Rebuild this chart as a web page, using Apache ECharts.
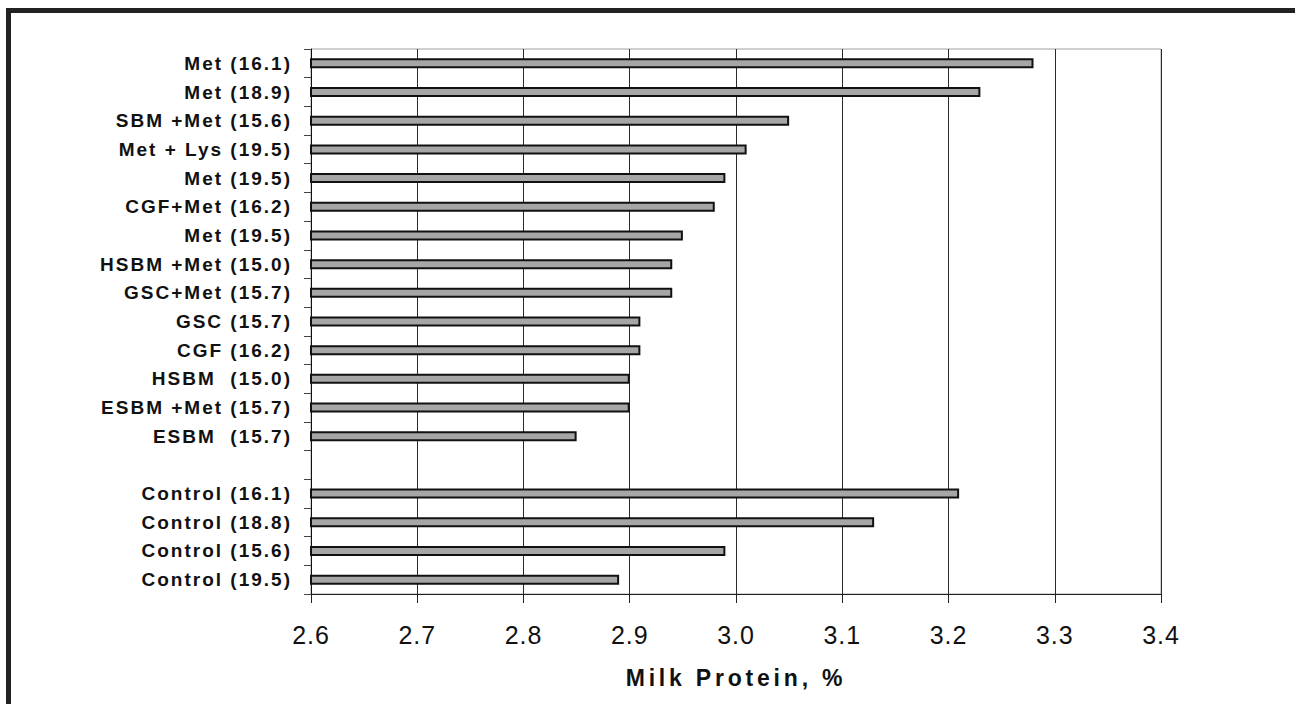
<!DOCTYPE html>
<html>
<head>
<meta charset="utf-8">
<script src="https://cdn.jsdelivr.net/npm/echarts@6/dist/echarts.min.js"></script>
<style>
  html, body { margin: 0; padding: 0; background: #fff; }
  #chart { width: 1295px; height: 704px; }
  #chart text[style*="19px"] { letter-spacing: 2px; }
  #chart text[style*="23px"] { letter-spacing: 3.8px; }
  #chart text[style*="25px"] { letter-spacing: 1px; }
</style>
</head>
<body>
<div id="chart"></div>
<script>
// Categories, top to bottom (the empty entry is the gap between groups)
const categories = [
  'Met (16.1)', 'Met (18.9)', 'SBM +Met (15.6)', 'Met + Lys (19.5)', 'Met (19.5)',
  'CGF+Met (16.2)', 'Met (19.5)', 'HSBM +Met (15.0)', 'GSC+Met (15.7)', 'GSC (15.7)',
  'CGF (16.2)', 'HSBM  (15.0)', 'ESBM +Met (15.7)', 'ESBM  (15.7)', '',
  'Control (16.1)', 'Control (18.8)', 'Control (15.6)', 'Control (19.5)'
];
// Milk protein, %
const milkProtein = [
  3.28, 3.23, 3.05, 3.01, 2.99,
  2.98, 2.95, 2.94, 2.94, 2.91,
  2.91, 2.90, 2.90, 2.85, null,
  3.21, 3.13, 2.99, 2.89
];
const xTickLabels = ['2.6', '2.7', '2.8', '2.9', '3.0', '3.1', '3.2', '3.3', '3.4'];
const axisTitle = 'Milk Protein, %';

const chart = echarts.init(document.getElementById('chart'), null, { renderer: 'svg' });
chart.setOption({
  animation: false,
  backgroundColor: '#ffffff',
  grid: {
    left: 311, right: 134, top: 49, bottom: 110,
    show: true, borderColor: '#a0a0a0', borderWidth: 1, backgroundColor: 'transparent'
  },
  xAxis: {
    type: 'value',
    min: 2.6, max: 3.4, interval: 0.1,
    name: axisTitle,
    nameLocation: 'middle',
    nameGap: 72,
    nameTextStyle: { fontFamily: 'Liberation Sans', fontWeight: 'bold', fontSize: 23, color: '#111' },
    axisLine: { show: true, lineStyle: { color: '#222', width: 1 } },
    axisTick: { show: true, inside: false, length: 9, lineStyle: { color: '#222' } },
    axisLabel: {
      margin: 28,
      fontFamily: 'Liberation Sans', fontSize: 25, color: '#111',
      formatter: function (v) {
        const i = Math.round((v - 2.6) / 0.1);
        return xTickLabels[i] !== undefined ? xTickLabels[i] : '';
      }
    },
    splitLine: { show: true, lineStyle: { color: '#2a2a2a', width: 1 } }
  },
  yAxis: {
    type: 'category',
    data: categories,
    inverse: true,
    axisLine: { show: true, lineStyle: { color: '#111', width: 1 } },
    axisTick: { show: true, inside: false, length: 7, lineStyle: { color: '#444' } },
    axisLabel: {
      margin: 19,
      fontFamily: 'Liberation Sans', fontWeight: 'bold', fontSize: 19, color: '#111'
    },
    splitLine: { show: false }
  },
  series: [{
    type: 'bar',
    data: milkProtein,
    barWidth: 10,
    itemStyle: { color: '#a6a6a6', borderColor: '#111', borderWidth: 2 },
    silent: true
  }],
  graphic: [
    { type: 'rect', shape: { x: 6, y: 8, width: 1289, height: 5 }, style: { fill: '#222' } },
    { type: 'rect', shape: { x: 6, y: 8, width: 5, height: 696 }, style: { fill: '#222' } }
  ]
});
</script>
</body>
</html>
